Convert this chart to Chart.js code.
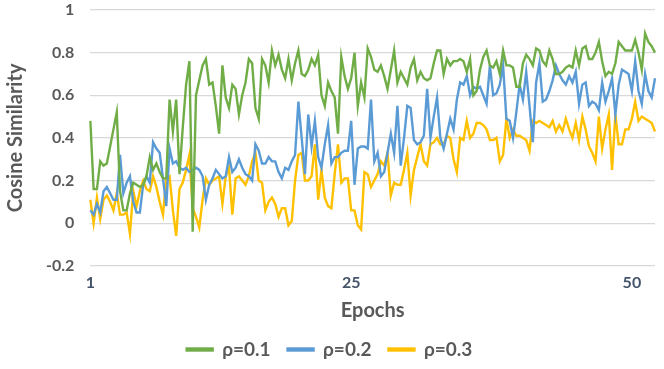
<!DOCTYPE html>
<html>
<head>
<meta charset="utf-8">
<script src="https://cdn.jsdelivr.net/npm/chart.js@4/dist/chart.umd.min.js"></script>
<style>
  html, body { margin: 0; padding: 0; background: #fff; }
  #wrap { width: 664px; height: 369px; }
</style>
</head>
<body>
<div id="wrap"><canvas id="simChart"></canvas></div>
<script>
// tick labels on the epoch axis, keyed by point index
const tickLabels = { 0: '1', 79: '25', 164: '50' };

const rho01 = [
  0.48,0.16,0.16,0.29,0.27,0.28,0.36,0.44,0.52,0.15,
  0.06,0.06,0.14,0.19,0.18,0.17,0.18,0.22,0.31,0.25,
  0.28,0.24,0.21,0.21,0.58,0.43,0.58,0.23,0.45,0.65,
  0.76,-0.04,0.60,0.67,0.74,0.77,0.65,0.66,0.55,0.42,
  0.74,0.59,0.54,0.65,0.63,0.51,0.60,0.66,0.77,0.75,
  0.54,0.49,0.77,0.74,0.66,0.81,0.74,0.79,0.72,0.68,
  0.77,0.67,0.75,0.81,0.70,0.69,0.72,0.77,0.74,0.79,
  0.60,0.55,0.66,0.62,0.59,0.42,0.78,0.69,0.63,0.68,
  0.80,0.55,0.66,0.59,0.82,0.78,0.72,0.71,0.74,0.69,
  0.63,0.72,0.81,0.66,0.71,0.68,0.65,0.73,0.77,0.67,
  0.71,0.68,0.67,0.68,0.75,0.81,0.81,0.70,0.77,0.74,
  0.76,0.76,0.77,0.76,0.71,0.77,0.60,0.62,0.72,0.78,
  0.81,0.74,0.73,0.76,0.70,0.81,0.74,0.74,0.73,0.64,
  0.64,0.75,0.79,0.77,0.74,0.82,0.81,0.76,0.74,0.81,
  0.77,0.70,0.70,0.71,0.73,0.74,0.73,0.81,0.74,0.82,
  0.83,0.77,0.77,0.80,0.85,0.76,0.69,0.71,0.70,0.75,
  0.85,0.83,0.81,0.81,0.81,0.86,0.80,0.72,0.89,0.85,
  0.83,0.80
];

const rho02 = [
  0.06,0.04,0.09,0.05,0.15,0.17,0.14,0.11,0.11,0.32,
  0.14,0.19,0.22,0.10,0.05,0.05,0.18,0.22,0.19,0.38,
  0.35,0.33,0.21,0.08,0.35,0.28,0.29,0.26,0.25,0.26,
  0.24,0.25,0.26,0.25,0.22,0.11,0.18,0.21,0.25,0.23,
  0.21,0.22,0.31,0.24,0.26,0.30,0.26,0.23,0.22,0.20,
  0.37,0.34,0.28,0.28,0.31,0.29,0.29,0.24,0.21,0.26,
  0.25,0.29,0.32,0.57,0.40,0.23,0.51,0.36,0.48,0.31,
  0.26,0.37,0.46,0.28,0.31,0.31,0.33,0.34,0.34,0.48,
  0.18,0.35,0.36,0.36,0.35,0.58,0.29,0.33,0.22,0.24,
  0.33,0.42,0.33,0.55,0.27,0.40,0.55,0.54,0.39,0.37,
  0.38,0.41,0.63,0.40,0.50,0.59,0.40,0.35,0.42,0.49,
  0.44,0.58,0.66,0.65,0.69,0.60,0.64,0.63,0.64,0.60,
  0.56,0.74,0.60,0.61,0.65,0.74,0.49,0.48,0.40,0.52,
  0.65,0.58,0.71,0.55,0.38,0.66,0.75,0.57,0.58,0.62,
  0.67,0.74,0.70,0.67,0.65,0.69,0.66,0.71,0.56,0.65,
  0.66,0.55,0.57,0.56,0.53,0.66,0.57,0.62,0.68,0.51,
  0.65,0.72,0.71,0.70,0.62,0.76,0.62,0.56,0.70,0.62,
  0.59,0.68
];

const rho03 = [
  0.11,0.00,0.12,0.02,0.11,0.13,0.10,0.06,0.14,0.04,
  0.04,0.05,-0.05,0.15,0.08,0.15,0.20,0.16,0.15,0.22,
  0.17,0.10,0.04,0.21,0.22,0.06,-0.06,0.16,0.19,0.25,
  0.32,0.07,0.03,-0.02,0.11,0.21,0.18,0.20,0.21,0.22,
  0.09,0.22,0.26,0.04,0.21,0.22,0.20,0.18,0.22,0.29,
  0.33,0.20,0.19,0.06,0.10,0.12,0.09,0.03,0.07,0.07,
  -0.01,0.01,0.20,0.32,0.33,0.20,0.20,0.22,0.37,0.11,
  0.25,0.12,0.08,0.07,0.23,0.37,0.19,0.21,0.21,0.06,
  0.06,-0.01,-0.03,0.24,0.23,0.17,0.20,0.23,0.29,0.27,
  0.33,0.13,0.19,0.18,0.18,0.25,0.33,0.13,0.25,0.31,
  0.37,0.29,0.27,0.37,0.38,0.40,0.37,0.37,0.41,0.40,
  0.30,0.24,0.40,0.39,0.48,0.40,0.42,0.47,0.47,0.46,
  0.44,0.39,0.39,0.40,0.29,0.32,0.49,0.40,0.44,0.41,
  0.41,0.40,0.39,0.34,0.48,0.47,0.48,0.47,0.46,0.45,
  0.48,0.43,0.46,0.43,0.49,0.44,0.40,0.47,0.39,0.50,
  0.44,0.36,0.33,0.29,0.50,0.35,0.44,0.51,0.25,0.51,
  0.37,0.37,0.44,0.44,0.49,0.57,0.48,0.50,0.49,0.48,
  0.47,0.43
];

const steps = rho01.map((v, i) => i);

const FONT = 'Lato, "Open Sans", sans-serif';
const GREY = '#595959';

function line(label, data, color) {
  return {
    label: label,
    data: data,
    borderColor: color,
    backgroundColor: color,
    borderWidth: 2.4,
    pointRadius: 0,
    tension: 0
  };
}

new Chart(document.getElementById('simChart'), {
  type: 'line',
  data: {
    labels: steps,
    datasets: [
      line('ρ=0.1', rho01, '#70AD47'),
      line('ρ=0.2', rho02, '#5B9BD5'),
      line('ρ=0.3', rho03, '#FFC000')
    ]
  },
  options: {
    responsive: true,
    maintainAspectRatio: false,
    animation: false,
    layout: { padding: { top: 7, right: 9, left: 4, bottom: 0 } },
    plugins: {
      tooltip: { enabled: false },
      legend: {
        position: 'bottom',
        labels: {
          boxWidth: 26,
          boxHeight: 2,
          padding: 17,
          color: GREY,
          font: { family: FONT, size: 19, weight: 'bold' }
        }
      }
    },
    scales: {
      x: {
        offset: false,
        grid: { display: false, drawTicks: false },
        border: { display: false },
        ticks: {
          autoSkip: false,
          maxRotation: 0,
          padding: 7,
          color: '#44546A',
          font: { family: FONT, size: 16, weight: 'bold' },
          callback: function(v, i) { return tickLabels[i] || ''; }
        },
        title: {
          display: true,
          text: 'Epochs',
          color: GREY,
          padding: { top: 0, bottom: 0 },
          font: { family: FONT, size: 20, weight: 'bold' }
        }
      },
      y: {
        min: -0.2,
        max: 1,
        // the tick padding is only wanted sideways, not above the top label
        afterFit: function(scale) {
          scale.paddingTop = 10;
          scale.paddingBottom = 10;
        },
        grid: { color: '#D9D9D9', lineWidth: 1.3, drawTicks: false },
        border: { display: false },
        ticks: {
          stepSize: 0.2,
          padding: 16,
          color: GREY,
          font: { family: FONT, size: 16, weight: 'bold' },
          callback: function(v) { return String(Number(v.toFixed(1))); }
        },
        title: {
          display: true,
          text: 'Cosine Similarity',
          color: GREY,
          padding: { top: 0, bottom: 2 },
          font: { family: FONT, size: 20, weight: 'bold' }
        }
      }
    }
  }
});
</script>
</body>
</html>
